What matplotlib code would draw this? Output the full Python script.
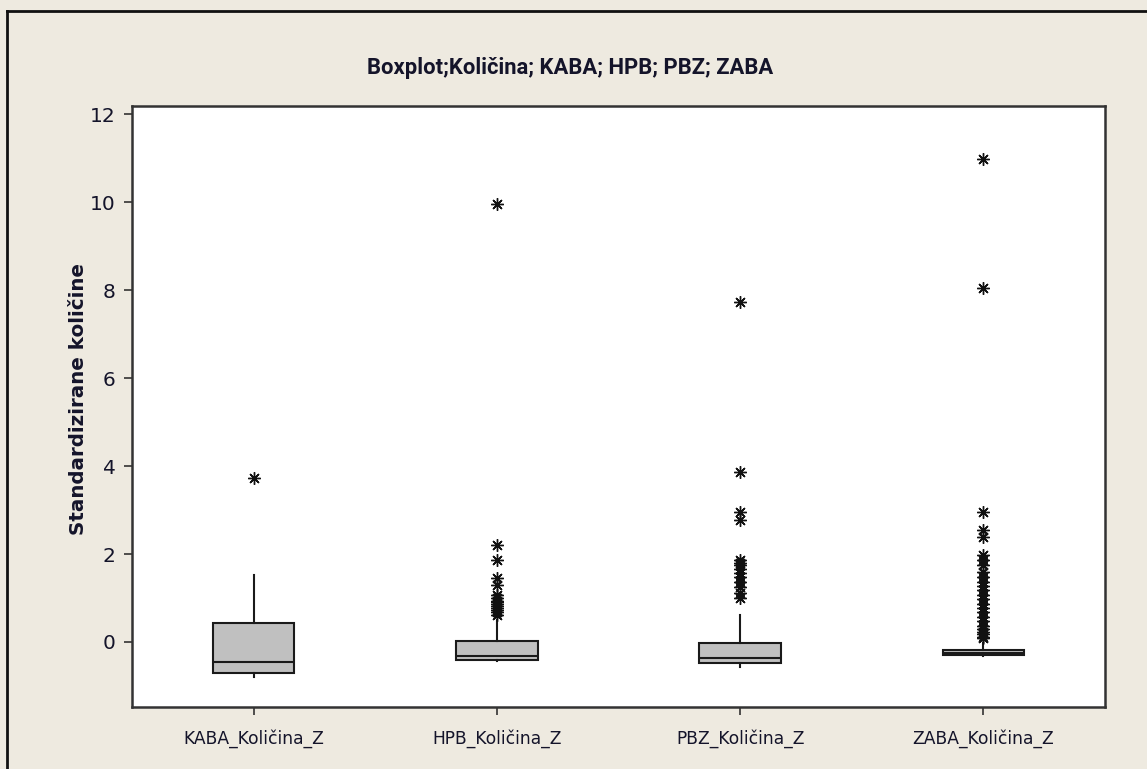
import matplotlib
matplotlib.use("Agg")
import matplotlib.pyplot as plt
from matplotlib.lines import Line2D

categories = ["KABA_Količina_Z", "HPB_Količina_Z", "PBZ_Količina_Z", "ZABA_Količina_Z"]
q1 = [-0.71, -0.42, -0.49, -0.30]
median = [-0.45, -0.33, -0.37, -0.25]
q3 = [0.43, 0.02, -0.03, -0.18]
whisker_low = [-0.79, -0.44, -0.57, -0.33]
whisker_high = [1.52, 0.50, 0.61, -0.03]
fliers_kaba = [3.74]
fliers_hpb = [9.95, 2.21, 1.86, 1.45, 1.29, 1.06, 1.00, 0.94, 0.90, 0.86, 0.82, 0.77, 0.72, 0.67, 0.62]
fliers_pbz = [7.74, 3.87, 2.96, 2.78, 1.86, 1.80, 1.74, 1.67, 1.57, 1.47, 1.37, 1.24, 1.12, 1.00]
fliers_zaba = [10.98, 8.04, 2.96, 2.55, 2.39, 1.98, 1.87, 1.74, 1.60, 1.47, 1.37, 1.27, 1.17, 1.07,
               0.97, 0.87, 0.77, 0.67, 0.57, 0.47, 0.37, 0.29, 0.22, 0.17, 0.12, 0.08]
fliers = [fliers_kaba, fliers_hpb, fliers_pbz, fliers_zaba]
yticks = [0, 2, 4, 6, 8, 10, 12]

title = "Boxplot;Količina; KABA; HPB; PBZ; ZABA"
ylabel = "Standardizirane količine"

bg = "#EEEAE0"
txt = "#14142a"

fig = plt.figure(figsize=(11.47, 7.69), dpi=100, facecolor=bg)
ax = fig.add_axes([132/1147, 1-707/769, (1105-132)/1147, (707-106)/769])
ax.set_facecolor("white")

stats = []
for i, lab in enumerate(categories):
    stats.append(dict(label=lab, q1=q1[i], med=median[i], q3=q3[i],
                      whislo=whisker_low[i], whishi=whisker_high[i], fliers=fliers[i]))

ax.bxp(stats, positions=[1, 2, 3, 4], widths=0.335, patch_artist=True, showcaps=False,
       boxprops=dict(facecolor="#C0C0C0", edgecolor="#1a1a1a", linewidth=1.5),
       medianprops=dict(color="#1a1a1a", linewidth=1.5),
       whiskerprops=dict(color="#1a1a1a", linewidth=1.5),
       flierprops=dict(marker=(8, 2, 0), markersize=9, markeredgecolor="#111111",
                       markeredgewidth=1.0, linestyle="none"))

ax.set_xlim(0.5, 4.5)
ax.set_ylim(-1.48, 12.19)
ax.set_yticks(yticks)
ax.set_yticklabels([str(v) for v in yticks])
ax.set_xticks([1, 2, 3, 4])
ax.set_xticklabels(categories)
ax.tick_params(axis="both", direction="out", length=6, width=1.2, color="#333333",
               labelcolor=txt)
ax.tick_params(axis="x", pad=10, labelsize=12.3)
ax.tick_params(axis="y", pad=5.8, labelsize=14.5)
for s in ax.spines.values():
    s.set_color("#333333")
    s.set_linewidth(1.8)

ax.set_ylabel(ylabel, fontsize=14.3, fontweight="bold", color=txt)
ax.yaxis.set_label_coords((88 - 132) / (1105 - 132), 0.513)
fig.text(570/1147, 1-68/769, title, ha="center", va="center", fontsize=15.8,
         fontweight="bold", color=txt, family="Roboto")

# outer frame lines (top and left)
fig.add_artist(Line2D([7/1147, 1], [1-11/769, 1-11/769], transform=fig.transFigure,
                      color="#111111", linewidth=2))
fig.add_artist(Line2D([7/1147, 7/1147], [0, 1-11/769], transform=fig.transFigure,
                      color="#111111", linewidth=2))

fig.savefig("out.png", dpi=100, facecolor=bg)
